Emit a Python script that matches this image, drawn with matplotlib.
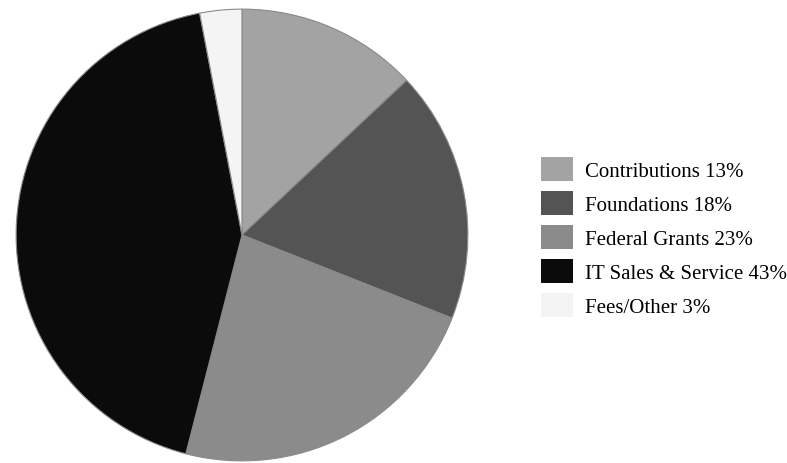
import matplotlib.pyplot as plt
from matplotlib.patches import Patch

# Revenue sources
labels = ['Contributions', 'Foundations', 'Federal Grants', 'IT Sales & Service', 'Fees/Other']
shares = [13, 18, 23, 43, 3]
colors = ['#a3a3a3', '#545454', '#8b8b8b', '#0b0b0b', '#f4f4f4']

plt.rcParams['font.family'] = ['Liberation Serif', 'DejaVu Serif']

fig = plt.figure(figsize=(7.87, 4.64), dpi=100)
ax = fig.add_axes([15 / 787, 1 / 464, 454 / 787, 454 / 464])
ax.pie(shares, colors=colors, startangle=90, counterclock=False,
       wedgeprops=dict(edgecolor='#8a8a8a', linewidth=0.8))
ax.set_xlim(-1.005, 1.005)
ax.set_ylim(-1.005, 1.005)

handles = [Patch(facecolor=c, edgecolor='none') for c in colors]
legend_labels = [f'{l} {s}%' for l, s in zip(labels, shares)]
fig.legend(handles, legend_labels, loc='upper left',
           bbox_to_anchor=(541 / 787, 1 - 158 / 464), frameon=False,
           fontsize=15, handlelength=1.55, handleheight=1.4,
           handletextpad=0.55, labelspacing=0.48, borderpad=0, borderaxespad=0)

fig.savefig('out.png', dpi=100)
